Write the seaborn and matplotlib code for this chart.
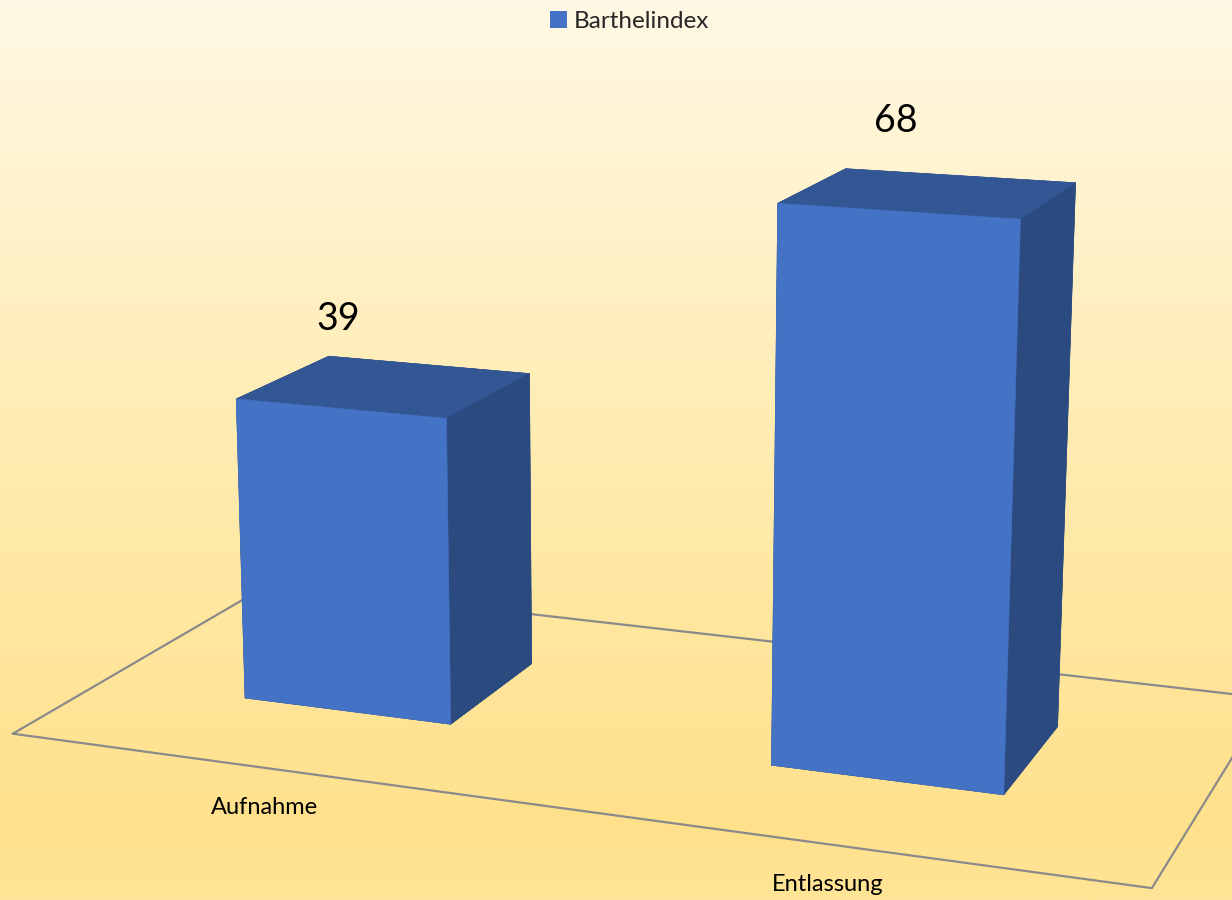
import numpy as np
import matplotlib
matplotlib.use("Agg")
import matplotlib.pyplot as plt
from matplotlib.patches import Patch
from matplotlib.colors import LinearSegmentedColormap
from matplotlib.transforms import ScaledTranslation
import seaborn as sns

# Chart data
categories = ["Aufnahme", "Entlassung"]
values = [39, 68]
series_name = "Barthelindex"

sns.set_theme(style="white")
plt.rcParams["font.family"] = ["Lato", "DejaVu Sans"]

front_col = "#4472C4"
top_col = "#335694"
side_col = "#2B4A80"
floor_col = "#8A8A8A"

fig = plt.figure(figsize=(12.32, 9.0), dpi=100)

# soft vertical cream-to-yellow background
bg = fig.add_axes([0, 0, 1, 1], zorder=0)
grad = np.linspace(0, 1, 512).reshape(-1, 1)
cmap = LinearSegmentedColormap.from_list(
    "bg", [(0.0, "#FFF8E4"), (0.5, "#FFECB0"), (0.92, "#FFE18C"), (1.0, "#FFE597")])
bg.imshow(grad, aspect="auto", cmap=cmap, extent=[0, 1, 0, 1], origin="upper")
bg.axis("off")

ax = fig.add_axes([0, 0, 1, 1], projection="3d", zorder=1)
ax.set_facecolor((0, 0, 0, 0))
ax.patch.set_alpha(0)
ax.set_axis_off()
ax.computed_zorder = False

xpos = np.arange(len(categories), dtype=float)
bar_w = 0.405
bar_d = 0.37
floor_x = (-0.49, 1.52)
floor_y = (-0.03, 0.95)
bar_y0 = (0.95 - bar_d) / 2

# floor outline
fx = [floor_x[0], floor_x[1], floor_x[1], floor_x[0], floor_x[0]]
fy = [floor_y[0], floor_y[0], floor_y[1], floor_y[1], floor_y[0]]
floor_line, = ax.plot(fx, fy, [0] * 5, color=floor_col, lw=1.6, zorder=1)
floor_line.set_clip_on(False)

# bars: faces ordered bottom, top, front, back, left, right
face_colors = []
for _ in values:
    face_colors += [side_col, top_col, front_col, side_col, side_col, side_col]
bars = ax.bar3d(xpos - bar_w / 2, np.full(len(xpos), bar_y0), np.zeros(len(xpos)),
                bar_w, bar_d, values, color=face_colors, shade=False, zorder=2)
bars.set_edgecolor(face_colors)
bars.set_linewidth(0.4)
bars.set_clip_on(False)

# value labels: anchored at the top front edge of each bar, lifted on screen
value_shift = ax.transData + ScaledTranslation(-0.02, 0.90, fig.dpi_scale_trans)
for x, v in zip(xpos, values):
    t = ax.text(x, bar_y0, v, f"{v}", ha="center", va="center",
                fontsize=27, color="black", zorder=5)
    t.set_transform(value_shift)
    t.set_clip_on(False)

# category labels: anchored on the front floor edge, dropped on screen
cat_shift = ax.transData + ScaledTranslation(0.0, -0.40, fig.dpi_scale_trans)
for x, c in zip(xpos, categories):
    t = ax.text(x, floor_y[0], 0, c, ha="center", va="center",
                fontsize=17, color="black", zorder=5)
    t.set_transform(cat_shift)
    t.set_clip_on(False)

ax.set_xlim(-0.534, 1.466)
ax.set_ylim(0, 0.95)
ax.set_zlim(-2.3, 72.7)
ax.set_box_aspect((2.0, 0.95, 1.065), zoom=1.518)
ax.view_init(elev=14, azim=-69)
ax.set_proj_type("persp", focal_length=0.68)

fig.legend(handles=[Patch(facecolor=front_col, edgecolor="none", label=series_name)],
           loc="upper center", bbox_to_anchor=(0.511, 1.012), frameon=False,
           fontsize=17.5, handlelength=0.7, handleheight=0.7, handletextpad=0.25)

fig.savefig("out.png", dpi=100)
